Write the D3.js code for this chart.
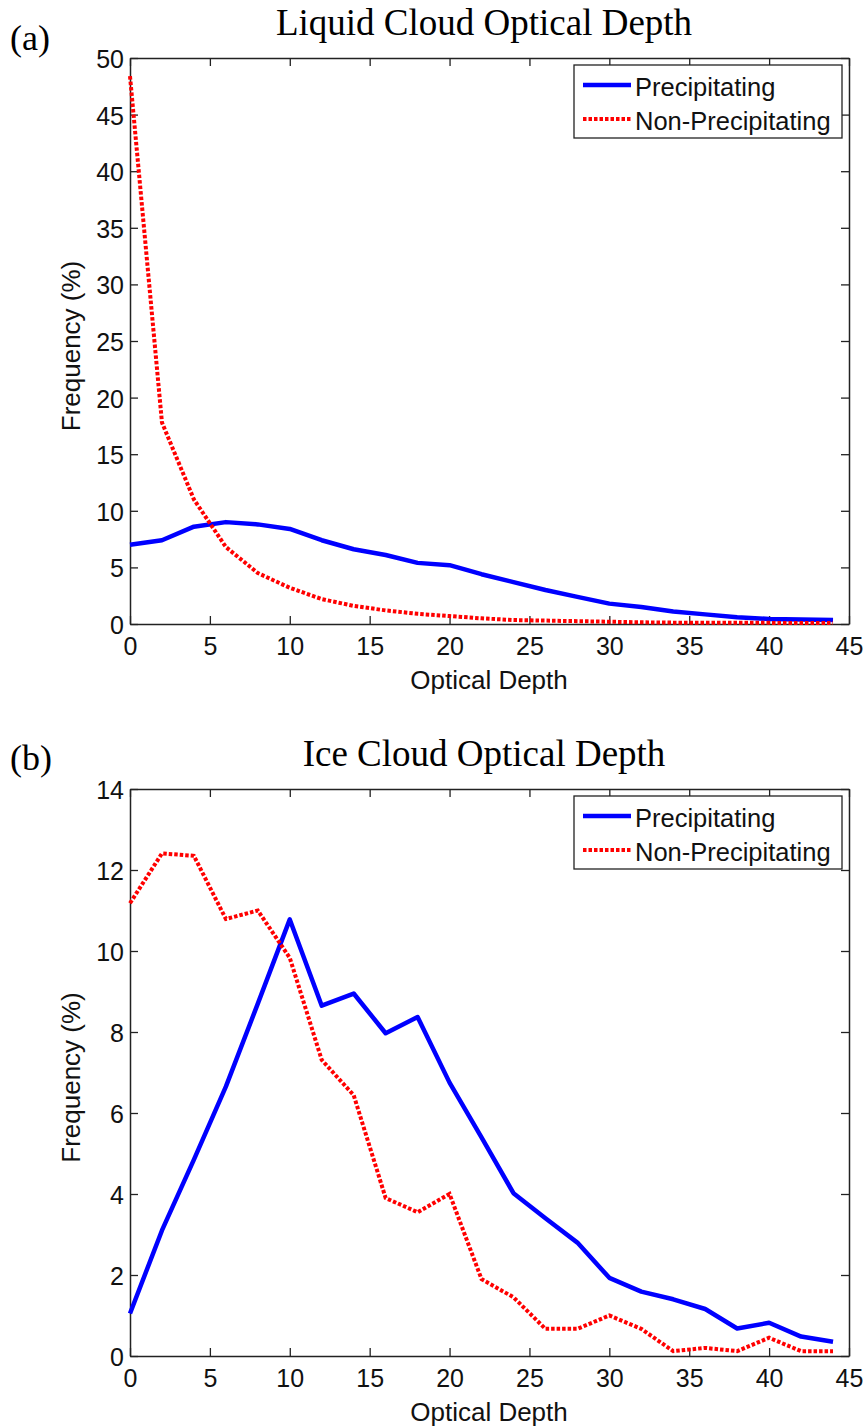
<!DOCTYPE html>
<html><head><meta charset="utf-8">
<script src="https://cdn.jsdelivr.net/npm/d3@7"></script>
<style>body{margin:0;background:#fff}svg{display:block}</style>
</head><body>
<svg id="chart" width="867" height="1428"></svg>
<script>
const opticalDepth = [0,2,4,6,8,10,12,14,16,18,20,22,24,26,28,30,32,34,36,38,40,42,44];
const liquidPrecip = [7.0,7.4,8.6,9.0,8.8,8.4,7.4,6.6,6.1,5.4,5.2,4.4,3.7,3.0,2.4,1.8,1.5,1.1,0.85,0.6,0.45,0.4,0.35];
const liquidNonPrecip = [48.4,17.8,11.0,6.8,4.5,3.2,2.2,1.6,1.2,0.9,0.7,0.5,0.35,0.3,0.25,0.2,0.15,0.12,0.1,0.1,0.1,0.08,0.08];
const icePrecip = [1.05,3.1,4.85,6.65,8.7,10.78,8.65,8.95,7.97,8.37,6.75,5.4,4.02,3.4,2.8,1.93,1.59,1.4,1.16,0.68,0.82,0.48,0.35];
const iceNonPrecip = [11.18,12.41,12.35,10.79,11.0,9.83,7.31,6.44,3.9,3.55,4.0,1.9,1.45,0.67,0.67,1.0,0.67,0.12,0.2,0.12,0.45,0.12,0.12];
const xTicks = [0,5,10,15,20,25,30,35,40,45];
const liquidYTicks = [0,5,10,15,20,25,30,35,40,45,50];
const iceYTicks = [0,2,4,6,8,10,12,14];
const seriesNames = ["Precipitating","Non-Precipitating"];
const panelTitles = ["Liquid Cloud Optical Depth","Ice Cloud Optical Depth"];
const panelLetters = ["(a)","(b)"];

const svg = d3.select("#chart");
const sans = "Liberation Sans, Arial, Helvetica, sans-serif";
const serif = "Liberation Serif, Times New Roman, serif";

function panel(cfg){
  const {top,bottom,yMax,yTicks,precip,nonPrecip,title,letter,titleY,letterY} = cfg;
  const x = d3.scaleLinear().domain([0,45]).range([130,849]);
  const y = d3.scaleLinear().domain([0,yMax]).range([bottom,top]);
  const g = svg.append("g");
  const tickLen = 8;
  const axB = d3.axisBottom(x).tickValues(xTicks).tickSizeInner(-tickLen).tickSizeOuter(0);
  const axT = d3.axisTop(x).tickValues(xTicks).tickSizeInner(-tickLen).tickSizeOuter(0).tickFormat("");
  const axL = d3.axisLeft(y).tickValues(yTicks).tickSizeInner(-tickLen).tickSizeOuter(0);
  const axR = d3.axisRight(y).tickValues(yTicks).tickSizeInner(-tickLen).tickSizeOuter(0).tickFormat("");
  const gb = g.append("g").attr("transform",`translate(0,${bottom})`).call(axB);
  const gt = g.append("g").attr("transform",`translate(0,${top})`).call(axT);
  const gl = g.append("g").attr("transform",`translate(130,0)`).call(axL);
  const gr = g.append("g").attr("transform",`translate(849,0)`).call(axR);
  [gb,gt,gl,gr].forEach(a=>{
    a.selectAll("path").attr("stroke","#222").attr("stroke-width",1.5);
    a.selectAll("line").attr("stroke","#222").attr("stroke-width",1.3);
    a.selectAll("text").attr("font-family",sans).attr("font-size",25).attr("fill","#111");
  });
  gb.selectAll("text").attr("y",31).attr("dy",0);
  gl.selectAll("text").attr("x",-6).attr("dy","0.38em");

  const line = d3.line().x((d,i)=>x(opticalDepth[i])).y(d=>y(d));
  g.append("path").datum(precip).attr("d",line).attr("fill","none")
    .attr("stroke","#0000ff").attr("stroke-width",4.5).attr("stroke-linejoin","round");
  g.append("path").datum(nonPrecip).attr("d",line).attr("fill","none")
    .attr("stroke","#ff0000").attr("stroke-width",4).attr("stroke-dasharray","3.5,2");

  g.append("text").attr("x",484).attr("y",titleY).attr("text-anchor","middle")
    .attr("font-family",serif).attr("font-size",37).attr("fill","#000").text(title);
  g.append("text").attr("x",10).attr("y",letterY).attr("font-family",serif).attr("font-size",36).attr("fill","#000").text(letter);
  g.append("text").attr("x",489).attr("y",bottom+65).attr("text-anchor","middle")
    .attr("font-family",sans).attr("font-size",26).attr("fill","#111").text("Optical Depth");
  g.append("text").attr("transform",`translate(80,${(top+bottom)/2+5}) rotate(-90)`).attr("text-anchor","middle")
    .attr("font-family",sans).attr("font-size",26).attr("fill","#111").text("Frequency (%)");

  const lg = g.append("g");
  lg.append("rect").attr("x",574).attr("y",top+7).attr("width",268).attr("height",73)
    .attr("fill","#fff").attr("stroke","#222").attr("stroke-width",1.3);
  const styles = [{c:"#0000ff",d:null,w:4.5},{c:"#ff0000",d:"3.5,2",w:4}];
  seriesNames.forEach((n,i)=>{
    const ly = top+27+i*34;
    lg.append("line").attr("x1",583).attr("x2",631).attr("y1",ly).attr("y2",ly)
      .attr("stroke",styles[i].c).attr("stroke-width",styles[i].w).attr("stroke-dasharray",styles[i].d);
    lg.append("text").attr("x",635).attr("y",ly+11).attr("font-family",sans).attr("font-size",25.5).attr("fill","#111").text(n);
  });
}

panel({top:58,bottom:624,yMax:50,yTicks:liquidYTicks,precip:liquidPrecip,nonPrecip:liquidNonPrecip,title:panelTitles[0],letter:panelLetters[0],titleY:35,letterY:50});
panel({top:789,bottom:1356,yMax:14,yTicks:iceYTicks,precip:icePrecip,nonPrecip:iceNonPrecip,title:panelTitles[1],letter:panelLetters[1],titleY:766,letterY:770});
</script>
</body></html>
